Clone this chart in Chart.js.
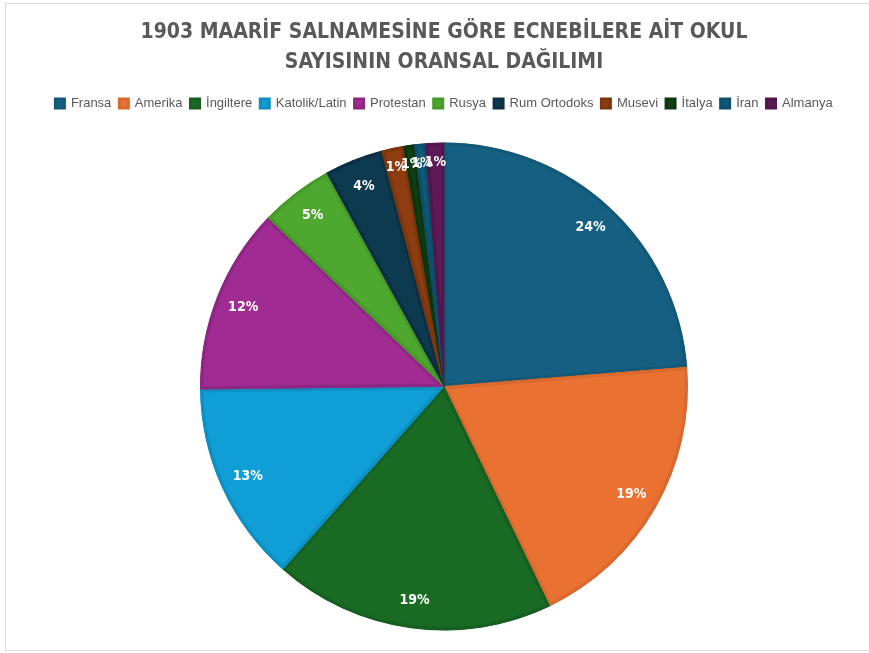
<!DOCTYPE html>
<html>
<head>
<meta charset="utf-8">
<script src="https://cdn.jsdelivr.net/npm/chart.js@4"></script>
<style>
  body { margin: 0; background: #fff; }
  #wrap { position: relative; width: 869px; height: 653px; }
  #frame { position: absolute; left: 5px; top: 3px; width: 880px; height: 648px;
           border: 1px solid #dcdcdc; box-sizing: border-box; }
  canvas { position: absolute; left: 0; top: 0; }
</style>
</head>
<body>
<div id="wrap">
  <div id="frame"></div>
  <canvas id="myChart" width="869" height="653"></canvas>
</div>
<script>
// Data
const categories = ['Fransa', 'Amerika', 'İngiltere', 'Katolik/Latin', 'Protestan', 'Rusya',
                    'Rum Ortodoks', 'Musevi', 'İtalya', 'İran', 'Almanya'];
const schoolCounts = [98, 79, 77, 55, 51, 20, 16, 6, 3, 3, 5];

const fillColors = ['#156082', '#e97132', '#196b24', '#0f9ed5', '#a02b93', '#4ea72e',
                    '#0e3a50', '#8e3d10', '#0f4014', '#0e5a7a', '#5e1a57'];
const edgeColors = ['#135877', '#d9692e', '#175f21', '#0d8fc2', '#8e2783', '#47992a',
                    '#0b3044', '#7d350e', '#0c3510', '#0c4f6b', '#52164c'];

// draws the percentage inside each slice
const pctLabels = {
  id: 'pctLabels',
  afterDatasetsDraw(chart) {
    const ctx = chart.ctx;
    const meta = chart.getDatasetMeta(0);
    const data = chart.data.datasets[0].data;
    const total = data.reduce((a, b) => a + b, 0);
    ctx.save();
    ctx.fillStyle = '#ffffff';
    ctx.font = 'bold 14px "DejaVu Sans Condensed", sans-serif';
    ctx.textAlign = 'center';
    ctx.textBaseline = 'middle';
    meta.data.forEach((arc, i) => {
      const p = arc.getProps(['x', 'y', 'startAngle', 'endAngle', 'outerRadius'], true);
      const mid = (p.startAngle + p.endAngle) / 2;
      const r = p.outerRadius * (data[i] / total < 0.03 ? 0.92 : 0.885);
      const pct = Math.round(data[i] / total * 100) + '%';
      ctx.fillText(pct, p.x + Math.cos(mid) * r, p.y + Math.sin(mid) * r);
    });
    ctx.restore();
  }
};

let myChart = document.getElementById('myChart').getContext('2d');
let schoolChart = new Chart(myChart, {
  type: 'pie',
  data: {
    labels: categories,
    datasets: [{
      data: schoolCounts,
      backgroundColor: fillColors,
      borderColor: edgeColors,
      borderWidth: 3,
      borderAlign: 'inner',
      radius: 244
    }]
  },
  options: {
    responsive: false,
    animation: false,
    layout: { padding: { left: 19, right: 0, top: 0, bottom: -9 } },
    plugins: {
      title: {
        display: true,
        text: ['1903 MAARİF SALNAMESİNE GÖRE ECNEBİLERE AİT OKUL', 'SAYISININ ORANSAL DAĞILIMI'],
        color: '#595959',
        font: { family: '"DejaVu Sans Condensed", sans-serif', size: 21, weight: 'bold', lineHeight: 1.45 },
        padding: { top: 17, bottom: 11 }
      },
      legend: {
        position: 'top',
        labels: {
          color: '#595959',
          font: { family: '"Liberation Sans", sans-serif', size: 13 },
          usePointStyle: true,
          pointStyle: 'rect',
          boxWidth: 9,
          boxHeight: 9,
          padding: 8
        }
      },
      tooltip: { enabled: false }
    }
  },
  plugins: [pctLabels]
});
</script>
</body>
</html>
